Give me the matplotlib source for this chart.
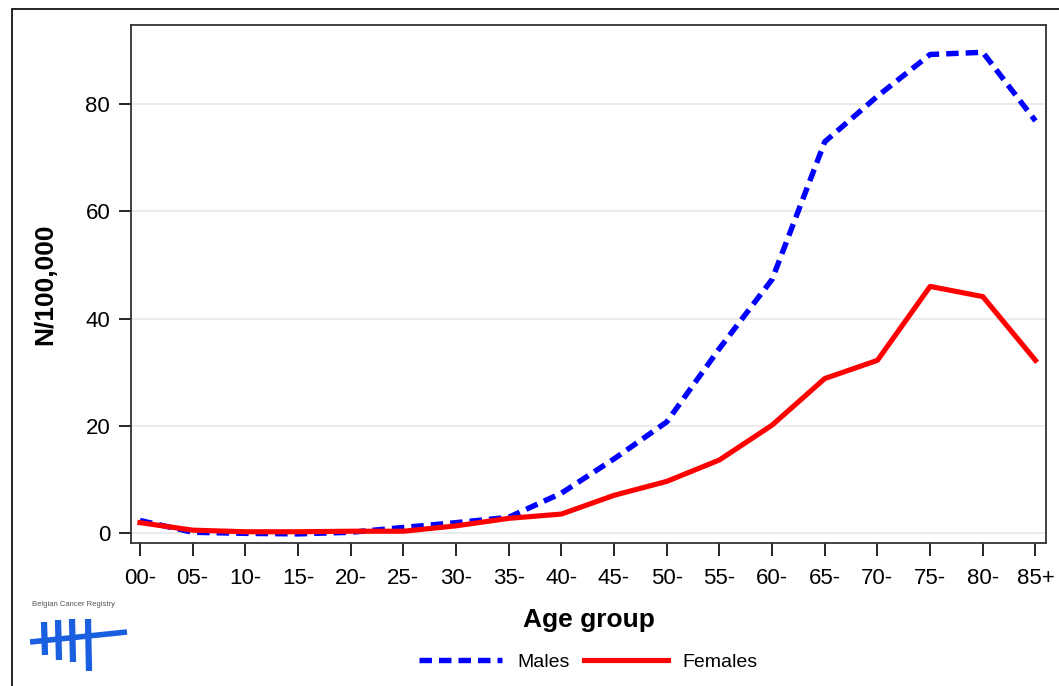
import matplotlib.pyplot as plt
import numpy as np
from matplotlib.lines import Line2D
from matplotlib.patches import Rectangle

plt.rcParams['font.family'] = ['Liberation Sans', 'DejaVu Sans']

age_groups = ['00-', '05-', '10-', '15-', '20-', '25-', '30-', '35-', '40-',
              '45-', '50-', '55-', '60-', '65-', '70-', '75-', '80-', '85+']
males = [2.3, 0.1, -0.1, -0.2, 0.1, 1.0, 1.9, 2.9, 7.4,
         13.8, 20.7, 34.4, 47.3, 73.0, 81.5, 89.3, 89.7, 76.9]
females = [1.9, 0.5, 0.2, 0.2, 0.3, 0.3, 1.3, 2.7, 3.5,
           7.0, 9.6, 13.6, 20.1, 28.8, 32.2, 46.0, 44.1, 32.2]

W, H = 1059, 686
fig = plt.figure(figsize=(W / 100, H / 100), dpi=100)
ax = fig.add_axes([131 / W, 1 - 543 / H, (1046 - 131) / W, (543 - 25) / H])

male_style = dict(color='#0000ff', lw=3.9, ls=(0, (2.3, 1.3)), dash_capstyle='butt')
female_style = dict(color='#ff0000', lw=3.7)

x = np.arange(len(age_groups))
ax.plot(x, males, label='Males', zorder=3, **male_style)
ax.plot(x, females, label='Females', zorder=3, **female_style)

ax.set_xlim(-0.17, 17.2)
ax.set_ylim(-1.9, 94.8)
ax.set_xticks(x)
ax.set_xticklabels(age_groups)
ax.set_yticks([0, 20, 40, 60, 80])
ax.tick_params(labelsize=16, length=9, width=1.2)
ax.tick_params(axis='x', pad=9)
ax.tick_params(axis='y', pad=6)
ax.yaxis.grid(True, color='#e8e8e8', lw=1.2)
ax.set_axisbelow(True)
for s in ax.spines.values():
    s.set_color('#333333')
    s.set_linewidth(1.3)

ax.set_xlabel('Age group', fontsize=19, fontweight='bold', labelpad=14)
ax.set_ylabel('N/100,000', fontsize=19, fontweight='bold', labelpad=20)

handles = [Line2D([], [], **male_style), Line2D([], [], **female_style)]
fig.legend(handles, ['Males', 'Females'], loc='center', bbox_to_anchor=(588 / W, 1 - 662 / H),
           ncol=2, frameon=False, fontsize=14, handlelength=4.3, columnspacing=0.75,
           handletextpad=0.75)

# outer frame
fig.patches.append(Rectangle((12 / W, -0.1), 1.2, 1 - 9 / H + 0.1, transform=fig.transFigure,
                             fill=False, edgecolor='black', lw=1.2))

# registry logo
blue = '#1a5fe0'
fig.text(32 / W, 1 - 605 / H, 'Belgian Cancer Registry', fontsize=5.5, color='#555555',
         va='center')
for lx, y0, y1 in [(44, 622, 655), (58, 620, 660), (72, 619, 662), (88, 619, 671)]:
    fig.add_artist(Line2D([lx / W, (lx + 1) / W], [1 - y0 / H, 1 - y1 / H], color=blue, lw=4.5,
                          solid_capstyle='butt'))
fig.add_artist(Line2D([30 / W, 127 / W], [1 - 642 / H, 1 - 632 / H], color=blue, lw=4,
                      solid_capstyle='butt'))

fig.savefig('out.png', dpi=100)
